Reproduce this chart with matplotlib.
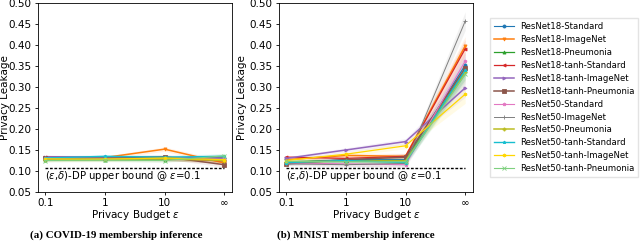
import numpy as np
import matplotlib
matplotlib.use("Agg")
import matplotlib.pyplot as plt

# ── Data ──────────────────────────────────────────────────────────────────────
eps_labels = ["0.1", "1", "10", "∞"]

series_names = [
    "ResNet18-Standard", "ResNet18-ImageNet", "ResNet18-Pneumonia",
    "ResNet18-tanh-Standard", "ResNet18-tanh-ImageNet", "ResNet18-tanh-Pneumonia",
    "ResNet50-Standard", "ResNet50-ImageNet", "ResNet50-Pneumonia",
    "ResNet50-tanh-Standard", "ResNet50-tanh-ImageNet", "ResNet50-tanh-Pneumonia",
]

covid_vals = [
    [0.130, 0.133, 0.131, 0.130],
    [0.131, 0.132, 0.152, 0.119],
    [0.127, 0.127, 0.127, 0.133],
    [0.133, 0.132, 0.130, 0.124],
    [0.134, 0.133, 0.132, 0.131],
    [0.132, 0.131, 0.134, 0.115],
    [0.132, 0.130, 0.129, 0.128],
    [0.128, 0.131, 0.130, 0.126],
    [0.126, 0.128, 0.129, 0.125],
    [0.131, 0.135, 0.133, 0.135],
    [0.129, 0.128, 0.131, 0.127],
    [0.125, 0.126, 0.125, 0.136],
]

mnist_vals = [
    [0.120, 0.127, 0.127, 0.352],
    [0.127, 0.137, 0.135, 0.398],
    [0.122, 0.125, 0.125, 0.340],
    [0.133, 0.130, 0.135, 0.391],
    [0.130, 0.150, 0.170, 0.298],
    [0.117, 0.127, 0.133, 0.345],
    [0.119, 0.117, 0.115, 0.362],
    [0.117, 0.115, 0.118, 0.457],
    [0.121, 0.124, 0.124, 0.335],
    [0.120, 0.125, 0.120, 0.340],
    [0.125, 0.140, 0.160, 0.283],
    [0.123, 0.122, 0.122, 0.330],
]

# rough spread of the shaded band at each budget
covid_spread = [0.004, 0.004, 0.005, 0.006]
mnist_spread = [0.004, 0.005, 0.007, 0.022]

dp_bound = 0.107

colours = ["#1f77b4", "#ff7f0e", "#2ca02c", "#d62728", "#9467bd", "#8c564b",
           "#e377c2", "#7f7f7f", "#bcbd22", "#17becf", "#ffd700", "#7fd07f"]
markers = ["o", "v", "^", "<", ">", "s", "p", "+", "P", "*", "h", "x"]
widths = [0.8, 1.1, 0.9, 0.9, 1.1, 1.1, 0.8, 0.7, 1.1, 1.0, 0.9, 0.8]

# ── Figure ────────────────────────────────────────────────────────────────────
plt.rcParams["font.family"] = "DejaVu Sans"
fig = plt.figure(figsize=(6.4, 2.41), dpi=100)
ax_a = fig.add_axes([38 / 640, 49 / 241, 194 / 640, 189 / 241])
ax_b = fig.add_axes([279 / 640, 49 / 241, 194 / 640, 189 / 241])

x = np.arange(len(eps_labels))


def draw_panel(ax, vals, spread, ylab_x):
    handles = []
    for i, name in enumerate(series_names):
        ys = np.array(vals[i])
        sp = np.array(spread)
        ax.fill_between(x, ys - sp, ys + sp, color=colours[i], alpha=0.1, lw=0)
        h, = ax.plot(x, ys, color=colours[i], marker=markers[i], markersize=2.2,
                     markeredgewidth=0.6, lw=widths[i], label=name)
        handles.append(h)
    ax.plot([0, 3], [dp_bound, dp_bound], color="black", ls=(0, (2, 1.2)), lw=1.0)
    ax.text(0.0, 0.089, "($\\epsilon$,$\\delta$)-DP upper bound @ $\\epsilon$=0.1",
            fontsize=7.3, ha="left", va="center")
    ax.set_xlim(-0.12, 3.13)
    ax.set_ylim(0.05, 0.50)
    ax.set_xticks(x)
    ax.set_xticklabels(eps_labels)
    ticks = np.arange(0.05, 0.501, 0.05)
    ax.set_yticks(ticks)
    ax.set_yticklabels([f"{v:.2f}" for v in ticks])
    ax.tick_params(labelsize=7.5, length=2.5, width=0.6, pad=2)
    ax.set_xlabel("Privacy Budget $\\epsilon$", fontsize=7.5, labelpad=0)
    ax.set_ylabel("Privacy Leakage", fontsize=7.5)
    ax.yaxis.set_label_coords(ylab_x, 0.5)
    for s in ax.spines.values():
        s.set_linewidth(0.6)
    return handles


handles = draw_panel(ax_a, covid_vals, covid_spread, -0.145)
draw_panel(ax_b, mnist_vals, mnist_spread, -0.165)

fig.text(116 / 640, 1 / 241, "(a) COVID-19 membership inference",
         family="Liberation Serif", weight="bold", fontsize=7.8, ha="center", va="bottom")
fig.text(356 / 640, 1 / 241, "(b) MNIST membership inference",
         family="Liberation Serif", weight="bold", fontsize=7.8, ha="center", va="bottom")

fig.legend(handles=handles, loc="upper left", bbox_to_anchor=(490 / 640, 223 / 241),
           borderaxespad=0, fontsize=6.1, frameon=True, handlelength=2.3,
           labelspacing=0.46, borderpad=0.5, handletextpad=0.7, fancybox=False,
           edgecolor="#dddddd")

fig.savefig("out.png", dpi=100)
